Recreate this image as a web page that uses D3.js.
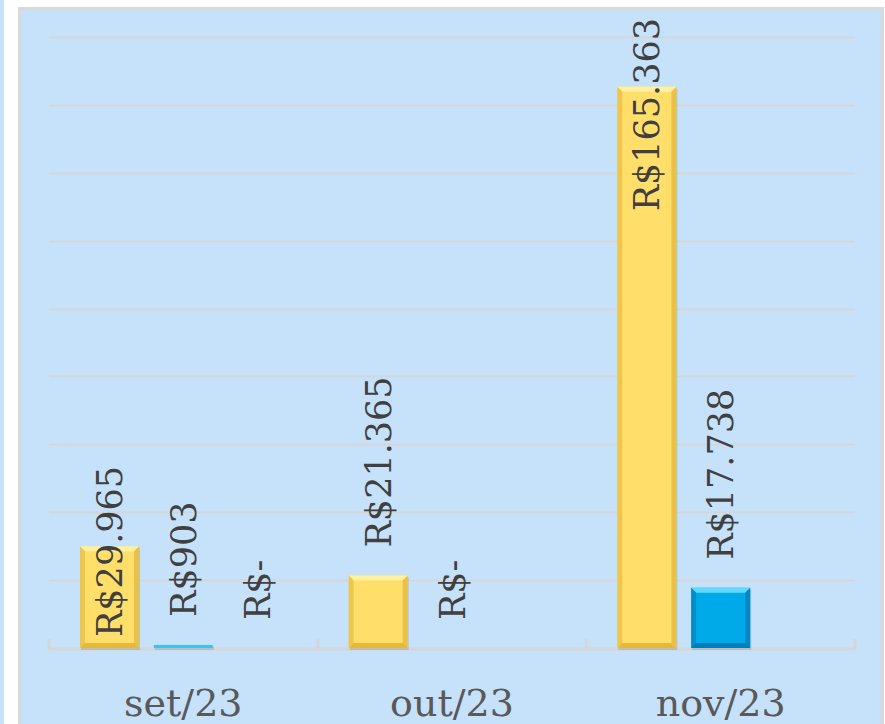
<!DOCTYPE html>
<html>
<head>
<meta charset="utf-8">
<script src="https://cdn.jsdelivr.net/npm/d3@7"></script>
<style>
  body { margin: 0; background: #fff; }
  svg { display: block; }
</style>
</head>
<body>
<div class="canvas"></div>
<script>
// data
const months = ["set/23", "out/23", "nov/23"];
const seriesNames = ["s1", "s2", "s3"];
const s1Values = [29965, 21365, 165363];
const s2Values = [903, 0, 17738];
const s3Values = [0, null, null];
const yTicks = [0, 20000, 40000, 60000, 80000, 100000, 120000, 140000, 160000, 180000];

const w = 885;
const h = 724;

// plot area
const plot = { left: 49, right: 855, top: 37, bottom: 648 };

const svg = d3.select(".canvas").append("svg").attr("width", w).attr("height", h);

// colours per series: light edge, main, dark edge
const palette = [
  { light: "#fff1a0", mid: "#ffdf6a", dark: "#d8a82a" },
  { light: "#62d8ff", mid: "#00aae9", dark: "#006aa6" },
  { light: "#62d8ff", mid: "#00aae9", dark: "#006aa6" }
];

// background frame
svg.append("rect").attr("x", 0).attr("y", 0).attr("width", 4).attr("height", h).attr("fill", "#c6e1fa");
svg.append("rect").attr("x", 19.5).attr("y", 8.5).attr("width", 863).attr("height", h + 10)
  .attr("fill", "#c6e1fa").attr("stroke", "#d9d9d9").attr("stroke-width", 3);

// scales
const x = d3.scaleBand().domain(months).range([plot.left, plot.right]);
const xSub = d3.scaleBand().domain(seriesNames).range([31, x.bandwidth() - 31]).paddingInner(0.2);
const y = d3.scaleLinear().domain([0, 180000]).range([plot.bottom, plot.top]);

// gridlines
svg.append("g").selectAll("line").data(yTicks.slice(1)).join("line")
  .attr("x1", plot.left).attr("x2", plot.right)
  .attr("y1", (d) => Math.round(y(d)) + 0.5).attr("y2", (d) => Math.round(y(d)) + 0.5)
  .attr("stroke", "#d6d6d6").attr("stroke-width", 2);

// x axis
const xAxis = d3.axisBottom(x).tickSize(0).tickFormat("");
const gx = svg.append("g").attr("transform", `translate(0, ${plot.bottom})`).call(xAxis);
gx.select(".domain").remove();
svg.append("line").attr("x1", plot.left).attr("x2", plot.right).attr("y1", plot.bottom + 1).attr("y2", plot.bottom + 1)
  .attr("stroke", "#d6d6d6").attr("stroke-width", 3);
const bounds = months.map((m) => x(m)).concat([plot.right]);
svg.append("g").selectAll("line").data(bounds).join("line")
  .attr("x1", (d) => d).attr("x2", (d) => d)
  .attr("y1", plot.bottom - 9).attr("y2", plot.bottom + 1)
  .attr("stroke", "#d6d6d6").attr("stroke-width", 3);

svg.append("g").selectAll("text").data(months).join("text")
  .attr("x", (d) => x(d) + x.bandwidth() / 2)
  .attr("y", 716)
  .attr("text-anchor", "middle")
  .attr("font-family", "DejaVu Serif")
  .attr("font-size", 38)
  .attr("fill", "#595959")
  .text((d) => d);

// points
const allSeries = [s1Values, s2Values, s3Values];
const points = [];
months.forEach((m, i) => {
  allSeries.forEach((vals, j) => {
    if (vals[i] !== null) points.push({ month: m, series: seriesNames[j], si: j, i: i, value: vals[i] });
  });
});

const fmt = (v) => (v === 0 ? "R$-" : "R$" + d3.format(",")(v).replace(/,/g, "."));

// bars with a bevelled look
const bars = svg.append("g").selectAll("g").data(points.filter((d) => d.value > 0)).join("g")
  .each(function (d) {
    const g = d3.select(this);
    const c = palette[d.si];
    const bx = x(d.month) + xSub(d.series);
    const bw = xSub.bandwidth();
    const by = y(d.value);
    const bh = Math.max(1.5, plot.bottom - by);
    const e = Math.min(5, bh / 3);
    // shadow
    g.append("rect").attr("x", bx + 1).attr("y", by + 2).attr("width", bw).attr("height", bh)
      .attr("fill", "#000").attr("opacity", 0.12);
    g.append("rect").attr("x", bx).attr("y", by).attr("width", bw).attr("height", bh).attr("fill", c.mid);
    if (bh < 4) {
      g.select("rect:last-child").attr("fill", "#3fc0f0");
      return;
    }
    // top bevel
    g.append("path")
      .attr("d", `M${bx},${by}H${bx + bw}L${bx + bw - e},${by + e}H${bx + e}Z`)
      .attr("fill", c.light);
    // left / right bevel
    g.append("path")
      .attr("d", `M${bx},${by}L${bx + e},${by + e}V${by + bh - e}L${bx},${by + bh}Z`)
      .attr("fill", c.dark).attr("opacity", 0.45);
    g.append("path")
      .attr("d", `M${bx + bw},${by}L${bx + bw - e},${by + e}V${by + bh - e}L${bx + bw},${by + bh}Z`)
      .attr("fill", c.dark).attr("opacity", 0.55);
    // bottom bevel
    g.append("path")
      .attr("d", `M${bx},${by + bh}L${bx + e},${by + bh - e}H${bx + bw - e}L${bx + bw},${by + bh}Z`)
      .attr("fill", c.dark).attr("opacity", 0.7);
  });

// labels: outside end by default, some moved
const labelFont = 35;
const gap = 28;
const labelBottom = (d) => {
  if (d.series === "s1" && d.month === "set/23") return plot.bottom - 11; // sits on the base
  return y(d.value) - gap;
};

svg.append("g").selectAll("text").data(points).join("text")
  .attr("font-family", "DejaVu Serif")
  .attr("font-size", labelFont)
  .attr("fill", "#404040")
  .attr("text-anchor", "start")
  .attr("dy", "0.36em")
  .text((d) => fmt(d.value))
  .each(function (d) {
    const cx = x(d.month) + xSub(d.series) + xSub.bandwidth() / 2;
    let by = labelBottom(d);
    const len = this.getComputedTextLength();
    if (by - len < 18) by = 18 + len; // keep inside the chart
    d3.select(this).attr("transform", `translate(${cx}, ${by}) rotate(-90)`);
  });
</script>
</body>
</html>
